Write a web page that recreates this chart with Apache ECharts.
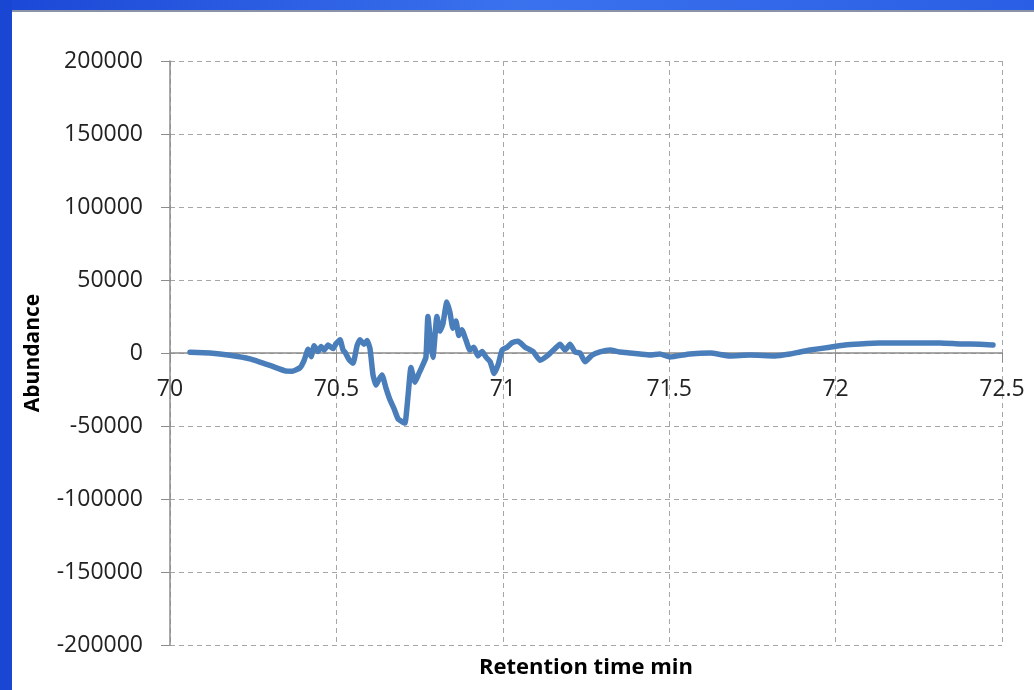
<!DOCTYPE html>
<html>
<head>
<meta charset="utf-8">
<script src="https://cdn.jsdelivr.net/npm/echarts@6/dist/echarts.min.js"></script>
<style>
  html, body { margin: 0; padding: 0; background: #ffffff; }
  #chart { width: 1034px; height: 690px; }
</style>
</head>
<body>
<div id="chart"></div>
<script>
// Retention time (min) of each sample
const retentionTime = [
  70.060, 70.120, 70.180, 70.240, 70.300, 70.346, 70.367, 70.391, 70.403, 70.415,
  70.424, 70.433, 70.445, 70.454, 70.463, 70.475, 70.490, 70.499, 70.511, 70.520,
  70.526, 70.538, 70.550, 70.562, 70.571, 70.583, 70.592, 70.601, 70.610, 70.619,
  70.628, 70.637, 70.649, 70.661, 70.673, 70.685, 70.697, 70.706, 70.715, 70.724,
  70.736, 70.748, 70.760, 70.769, 70.775, 70.784, 70.790, 70.802, 70.811, 70.820,
  70.832, 70.841, 70.850, 70.859, 70.868, 70.877, 70.889, 70.901, 70.913, 70.925,
  70.938, 70.950, 70.962, 70.974, 70.986, 70.998, 71.013, 71.028, 71.046, 71.067,
  71.091, 71.112, 71.136, 71.157, 71.172, 71.187, 71.202, 71.217, 71.232, 71.247,
  71.268, 71.292, 71.322, 71.352, 71.382, 71.412, 71.442, 71.472, 71.502, 71.562,
  71.623, 71.683, 71.743, 71.818, 71.863, 71.893, 71.923, 71.983, 72.028, 72.073,
  72.133, 72.194, 72.254, 72.314, 72.374, 72.434, 72.473
];

// Detector abundance at each retention time
const abundance = [
  500, 0, -1500, -4000, -8500, -12300, -12500, -10000, -5000, 2500,
  -2500, 5000, 1000, 4500, 2000, 5500, 3000, 6500, 9000, 2000,
  500, -4500, -7000, 5000, 9000, 6000, 8500, 3000, -15000, -22000,
  -18000, -15000, -24000, -32000, -38000, -45000, -47000, -48000, -30000, -10000,
  -20000, -14000, -8000, -3000, 25000, 5000, -3000, 25000, 15000, 20000,
  35000, 28000, 17000, 22000, 12000, 16000, 9000, 2000, 4000, -2000,
  1000, -3000, -6000, -14000, -8000, 2000, 4000, 7000, 8000, 4000,
  1000, -5000, -1500, 3000, 6000, 2000, 6000, 700, 0, -6000,
  -1500, 700, 2000, 700, 0, -700, -1400, -700, -2700, -700,
  0, -2000, -1400, -2000, -700, 700, 2000, 4000, 5500, 6200,
  6800, 6800, 6800, 6800, 6200, 6000, 5500
];

const xTitle = 'Retention time min';
const yTitle = 'Abundance';

const points = retentionTime.map((t, i) => [t, abundance[i]]);

const FONT = 'Open Sans, Noto Sans, Liberation Sans, sans-serif';
const GRID = { left: 170, right: 32, top: 61, bottom: 45 };
const PLOT_H = 690 - GRID.top - GRID.bottom;
const Y_MIN = -200000, Y_MAX = 200000;
// distance from the bottom of the plot up to the zero line, so the x axis sits on y = 0
const zeroOffset = PLOT_H * (0 - Y_MIN) / (Y_MAX - Y_MIN);

const chart = echarts.init(document.getElementById('chart'), null, { renderer: 'canvas' });

const gridLine = { show: true, lineStyle: { color: '#a6a6a6', type: [5, 4], width: 1 } };

chart.setOption({
  backgroundColor: '#ffffff',
  animation: false,
  textStyle: { fontFamily: FONT },
  graphic: [
    {
      type: 'rect', left: 0, top: 0, z: 100,
      shape: { width: 1034, height: 10 },
      style: {
        fill: new echarts.graphic.LinearGradient(0, 0, 1, 0, [
          { offset: 0, color: '#1b47d6' },
          { offset: 0.5, color: '#3a72ee' },
          { offset: 1, color: '#2a5ee4' }
        ])
      }
    },
    {
      type: 'rect', left: 0, top: 10, z: 100,
      shape: { width: 1034, height: 2 },
      style: { fill: '#8a94a6' }
    },
    {
      type: 'rect', left: 0, top: 0, z: 101,
      shape: { width: 12, height: 690 },
      style: { fill: '#1a46d4' }
    },
    {
      type: 'text', z: 50,
      x: 586, y: 668,
      style: {
        text: xTitle, fontSize: 22, fontWeight: 'bold', fill: '#000',
        fontFamily: FONT, align: 'center', verticalAlign: 'middle'
      }
    }
  ],
  grid: { left: GRID.left, right: GRID.right, top: GRID.top, bottom: GRID.bottom, containLabel: false },
  xAxis: {
    type: 'value',
    min: 70,
    max: 72.5,
    interval: 0.5,
    position: 'bottom',
    offset: -zeroOffset,
    axisLine: { show: true, onZero: false, lineStyle: { color: '#8c8c8c', width: 1.5 } },
    axisTick: { show: true, inside: false, length: 9, lineStyle: { color: '#8c8c8c' } },
    axisLabel: { fontSize: 23, color: '#222', margin: 25, fontFamily: FONT },
    splitLine: gridLine
  },
  yAxis: {
    type: 'value',
    min: Y_MIN,
    max: Y_MAX,
    interval: 50000,
    name: yTitle,
    nameLocation: 'middle',
    nameGap: 126,
    nameRotate: 90,
    nameTextStyle: { fontSize: 21, fontWeight: 'bold', color: '#000', fontFamily: FONT },
    axisLine: { show: true, onZero: false, lineStyle: { color: '#8c8c8c', width: 1.5 } },
    axisTick: { show: true, inside: false, length: 9, lineStyle: { color: '#8c8c8c' } },
    axisLabel: { fontSize: 23, color: '#222', margin: 27, fontFamily: FONT, formatter: v => String(v) },
    splitLine: gridLine
  },
  series: [
    {
      type: 'line',
      data: points,
      showSymbol: false,
      smooth: 0.15,
      lineStyle: { color: '#4a7ebb', width: 5.5, join: 'round', cap: 'round' },
      z: 5
    }
  ]
});
</script>
</body>
</html>
